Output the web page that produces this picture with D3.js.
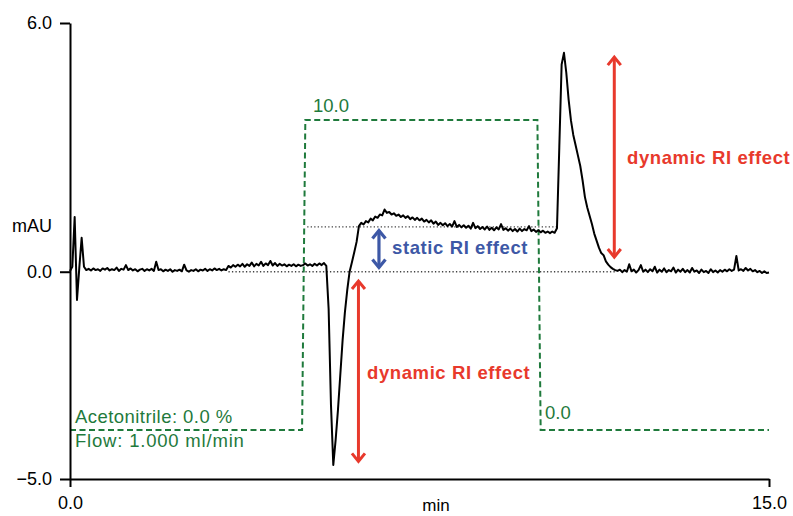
<!DOCTYPE html>
<html>
<head>
<meta charset="utf-8">
<script src="https://cdn.jsdelivr.net/npm/d3@7"></script>
<style>
  html, body { margin: 0; padding: 0; background: #fff; }
  svg { display: block; }
  text { font-family: "Helvetica Neue", "Liberation Sans", Arial, sans-serif; }
</style>
</head>
<body>
<svg id="chart" width="793" height="516"></svg>
<script>
// ---------- data ----------
const timeStep = 0.05; // min, sampling of the detector trace
const signal = [
  0.02, 0.12, 1.32, -0.68, 0.10, 0.82, 0.12, 0.04,
  0.07, 0.03, 0.08, 0.04, 0.06, 0.02, 0.08, 0.05, 0.09, 0.03, 0.06, 0.04,
  0.10, 0.02, 0.07, 0.05, 0.16, 0.04, 0.08, 0.03, 0.06, 0.01, 0.05, 0.07,
  0.02, 0.06, 0.03, 0.07, 0.02, 0.24, 0.04, 0.06, 0.01, 0.05, 0.02, 0.06,
  0.00, 0.04, 0.02, 0.05, 0.01, 0.17, 0.03, 0.00, 0.04, 0.02, 0.06, 0.01,
  0.05, 0.03, 0.07, 0.02, 0.06, 0.03, 0.08, 0.04, 0.07, 0.03, 0.06, 0.04,
  0.14, 0.10, 0.16, 0.12, 0.17, 0.13, 0.19, 0.12, 0.18, 0.14, 0.22, 0.13,
  0.19, 0.15, 0.24, 0.14, 0.20, 0.16, 0.26, 0.15, 0.21, 0.14, 0.19, 0.15,
  0.18, 0.13, 0.17, 0.14, 0.18, 0.13, 0.17, 0.14, 0.16,
  0.20, 0.15, 0.18, 0.14, 0.19, 0.15, 0.20, 0.16, 0.21, 0.14,
  -0.90, -3.20, -4.66, -4.06, -3.34, -2.49, -1.65, -0.97, -0.44, 0.00,
  0.23, 0.47, 0.72, 1.10, 1.18, 1.14, 1.22, 1.19, 1.28, 1.24, 1.33, 1.30,
  1.38, 1.36, 1.50, 1.42, 1.44, 1.38, 1.41, 1.35, 1.38, 1.32, 1.36, 1.30,
  1.34, 1.27, 1.31, 1.25, 1.30, 1.24, 1.28, 1.21, 1.25, 1.19, 1.24, 1.16,
  1.21, 1.13, 1.18, 1.12, 1.17, 1.10, 1.15, 1.09, 1.22, 1.08, 1.13, 1.07,
  1.12, 1.06, 1.11, 1.04, 1.18, 1.05, 1.10, 1.03, 1.08, 1.02, 1.09, 1.01,
  1.06, 1.00, 1.07, 1.02, 1.15, 1.01, 1.05, 0.99, 1.04, 0.98, 1.03, 0.97,
  1.04, 0.98, 1.03, 1.00, 1.10, 0.98, 1.02, 0.96, 1.00, 0.95, 0.99, 0.94,
  0.97, 0.93, 0.97, 0.94, 1.05,
  3.00, 5.00, 5.28, 4.80, 4.15, 3.65, 3.30, 3.05, 2.80, 2.55, 2.20, 1.80,
  1.55, 1.35, 1.15, 0.92, 0.75, 0.58, 0.45, 0.40, 0.25, 0.17, 0.11, 0.07, 0.04,
  0.02, 0.05, -0.01, 0.04, 0.00, 0.18, 0.01, 0.05, -0.02, 0.04, 0.16, 0.00,
  0.05, -0.01, 0.06, 0.01, 0.12, -0.02, 0.05, 0.00, 0.08, -0.01, 0.04, 0.01,
  0.10, -0.02, 0.05, 0.00, 0.07, -0.01, 0.04, -0.02, 0.09, 0.00, 0.03, -0.03,
  0.05, -0.01, 0.02, -0.03, 0.06, -0.01, 0.03, -0.02, 0.04, 0.00, 0.05, 0.01,
  0.06, 0.02, 0.05, 0.38, 0.03, 0.06, 0.02, 0.09, 0.03, 0.07, 0.01, 0.04,
  -0.01, 0.02, -0.03, 0.01, -0.03, -0.02
];

// gradient program (% acetonitrile)
const gradTime  = [0, 4.98, 5.05, 10.03, 10.10, 15];
const gradValue = [0, 0, 10, 10, 0, 0];

// axis ticks
const yTicks = [-5, 0, 6];
const xTicks = [0, 15];

// reference levels
const baselineLevel = 0.0;     // dotted baseline
const staticLevel   = 1.08;    // dotted level after RI step
const baselineSpan  = [3.4, 11.7];
const staticSpan    = [5.09, 10.45];

// annotations
const labelGradHigh = "10.0";
const labelGradLow  = "0.0";
const labelMethod1  = "Acetonitrile: 0.0 %";
const labelMethod2  = "Flow: 1.000 ml/min";
const labelStatic   = "static RI effect";
const labelDynamic  = "dynamic RI effect";

// ---------- drawing ----------
const svg = d3.select("#chart");
const W = 793, H = 516;
const margin = {left: 70, right: 24, top: 23, bottom: 37};

const x = d3.scaleLinear().domain([0, 15]).range([margin.left, W - margin.right]);
const y = d3.scaleLinear().domain([-5, 6]).range([H - margin.bottom, margin.top]);
const yGrad = d3.scaleLinear().domain([0, 10]).range([430, 120]);

const green = "#1f7a3c";
const red = "#e8392c";
const blue = "#3d58a6";

// dotted reference lines
svg.append("line")
  .attr("x1", x(baselineSpan[0])).attr("x2", x(baselineSpan[1]))
  .attr("y1", y(baselineLevel)).attr("y2", y(baselineLevel))
  .attr("stroke", "#444").attr("stroke-width", 1.3).attr("stroke-dasharray", "1.3,2.2");
svg.append("line")
  .attr("x1", x(staticSpan[0])).attr("x2", x(staticSpan[1]))
  .attr("y1", y(staticLevel)).attr("y2", y(staticLevel))
  .attr("stroke", "#444").attr("stroke-width", 1.3).attr("stroke-dasharray", "1.3,2.2");

// gradient dashed line
const gradData = gradTime.map((t, i) => [t, gradValue[i]]);
svg.append("path")
  .datum(gradData)
  .attr("fill", "none")
  .attr("stroke", green)
  .attr("stroke-width", 2)
  .attr("stroke-dasharray", "6,3.5")
  .attr("d", d3.line().x(d => x(d[0])).y(d => yGrad(d[1])));

// signal trace
const sigData = signal.map((v, i) => [i * timeStep, v]);
svg.append("path")
  .datum(sigData)
  .attr("fill", "none")
  .attr("stroke", "#000")
  .attr("stroke-width", 2)
  .attr("stroke-linejoin", "round")
  .attr("d", d3.line().x(d => x(d[0])).y(d => y(d[1])));

// axes
const fmt = d3.format(".1f");
const yAxis = svg.append("g")
  .attr("transform", `translate(${margin.left},0)`)
  .call(d3.axisLeft(y).tickValues(yTicks).tickFormat(fmt).tickSize(10).tickSizeOuter(0).tickPadding(8));
const xAxis = svg.append("g")
  .attr("transform", `translate(0,${y(-5)})`)
  .call(d3.axisBottom(x).tickValues(xTicks).tickFormat(fmt).tickSize(8).tickSizeOuter(0).tickPadding(9));
[yAxis, xAxis].forEach(g => {
  g.select(".domain").attr("stroke", "#000").attr("stroke-width", 2);
  g.selectAll(".tick line").attr("stroke", "#000").attr("stroke-width", 2);
  g.selectAll(".tick text").attr("fill", "#000").attr("font-size", 18)
    .attr("font-family", "'Helvetica Neue', 'Liberation Sans', Arial, sans-serif");
});

svg.append("text").attr("x", 32).attr("y", 232).attr("text-anchor", "middle")
  .attr("font-size", 18).text("mAU");
svg.append("text").attr("x", 436).attr("y", 511).attr("text-anchor", "middle")
  .attr("font-size", 17).text("min");

// gradient labels
svg.append("text").attr("x", 313).attr("y", 112).attr("fill", green)
  .attr("font-size", 18.5).text(labelGradHigh);
svg.append("text").attr("x", 545).attr("y", 419).attr("fill", green)
  .attr("font-size", 18.5).text(labelGradLow);
svg.append("text").attr("x", 75).attr("y", 423).attr("fill", green)
  .attr("font-size", 18.5).attr("letter-spacing", 0.45).text(labelMethod1);
svg.append("text").attr("x", 75).attr("y", 447).attr("fill", green)
  .attr("font-size", 18.5).attr("letter-spacing", 0.8).text(labelMethod2);

// double arrows
function dblArrow(cx, y1, y2, color, hw, hh, sw) {
  const g = svg.append("g").attr("stroke", color).attr("fill", "none")
    .attr("stroke-width", sw).attr("stroke-linecap", "butt").attr("stroke-linejoin", "miter");
  g.append("line").attr("x1", cx).attr("x2", cx).attr("y1", y1 + 1).attr("y2", y2 - 1);
  g.append("path").attr("d", `M${cx - hw},${y1 + hh} L${cx},${y1 + 1} L${cx + hw},${y1 + hh}`);
  g.append("path").attr("d", `M${cx - hw},${y2 - hh} L${cx},${y2 - 1} L${cx + hw},${y2 - hh}`);
}
dblArrow(x(6.63), y(1.02), y(0.08), blue, 6.5, 9, 3.2);
dblArrow(x(6.19), y(-0.2), y(-4.6), red, 6.5, 9, 3);
dblArrow(x(11.68), y(5.2), y(0.33), red, 6.5, 9, 3);

svg.append("text").attr("x", 392).attr("y", 254).attr("fill", blue)
  .attr("font-size", 18.5).attr("font-weight", "bold").attr("letter-spacing", 0.6).text(labelStatic);
svg.append("text").attr("x", 367).attr("y", 379).attr("fill", red)
  .attr("font-size", 18.5).attr("font-weight", "bold").attr("letter-spacing", 0.6).text(labelDynamic);
svg.append("text").attr("x", 627).attr("y", 164).attr("fill", red)
  .attr("font-size", 18.5).attr("font-weight", "bold").attr("letter-spacing", 0.6).text(labelDynamic);
</script>
</body>
</html>
